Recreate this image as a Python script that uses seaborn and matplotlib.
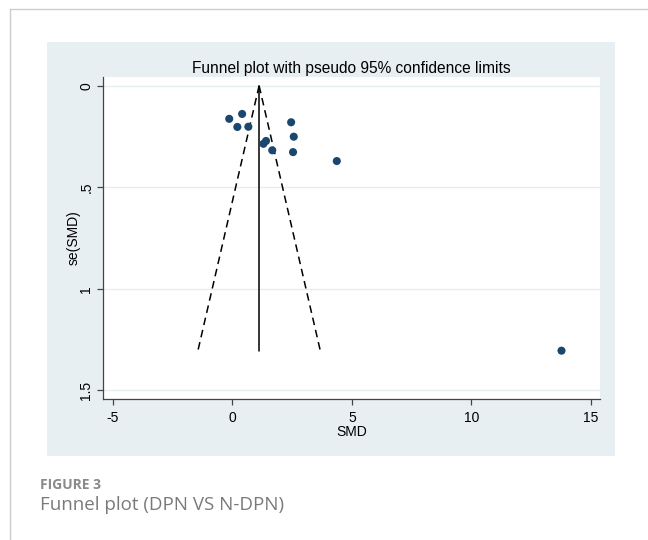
import matplotlib
matplotlib.use("Agg")
import matplotlib.pyplot as plt
import seaborn as sns
import pandas as pd
from matplotlib.patches import Rectangle
from matplotlib.lines import Line2D

# ---- data ----
smd = [-0.13, 0.41, 0.21, 0.67, 1.30, 1.41, 1.67, 2.46, 2.57, 2.54, 4.37, 13.77]
se_smd = [0.163, 0.139, 0.203, 0.202, 0.286, 0.272, 0.318, 0.180, 0.251, 0.327, 0.371, 1.305]
pooled_smd = [1.12, 1.12]
pooled_se = [0.0, 1.305]
funnel_se = [0.0, 1.30]
funnel_lower = [1.12, -1.43]
funnel_upper = [1.12, 3.67]
x_ticks = [-5, 0, 5, 10, 15]
y_ticks = [0, 0.5, 1, 1.5]
y_tick_labels = ["0", ".5", "1", "1.5"]
title = "Funnel plot with pseudo 95% confidence limits"
x_label = "SMD"
y_label = "se(SMD)"
fig_label = "FIGURE 3"
fig_caption = "Funnel plot (DPN VS N-DPN)"

df = pd.DataFrame({"SMD": smd, "se": se_smd})

sns.set_theme(style="white")
plt.rcParams['font.family'] = ['Liberation Sans', 'DejaVu Sans']

W, H = 648, 540
fig = plt.figure(figsize=(W / 100, H / 100), dpi=100)
fig.patch.set_facecolor("white")

# page border lines
fig.add_artist(Line2D([10 / W, 10 / W], [0, 1 - 9 / H], transform=fig.transFigure,
                      color="#cccccc", lw=1.0))
fig.add_artist(Line2D([10 / W, 1], [1 - 9 / H, 1 - 9 / H], transform=fig.transFigure,
                      color="#cccccc", lw=1.0))
# graph panel background
fig.add_artist(Rectangle((47 / W, 1 - 455.7 / H), (615 - 47) / W, (455.7 - 42) / H,
                         transform=fig.transFigure, facecolor="#e8eff2",
                         edgecolor="none", zorder=-1))

ax = fig.add_axes([103 / W, 1 - 399 / H, (600 - 103) / W, (399 - 77) / H])
ax.set_facecolor("white")

# funnel lines
sns.lineplot(x=funnel_lower, y=funnel_se, sort=False, estimator=None, ax=ax,
             color="black", lw=1.1, linestyle=(0, (5.0, 3.2)))
sns.lineplot(x=funnel_upper, y=funnel_se, sort=False, estimator=None, ax=ax,
             color="black", lw=1.1, linestyle=(0, (5.0, 3.2)))
sns.lineplot(x=pooled_smd, y=pooled_se, sort=False, estimator=None, ax=ax,
             color="black", lw=1.1)

sns.scatterplot(data=df, x="SMD", y="se", ax=ax, color="#1a476f", s=34,
                edgecolor="none", zorder=3)

ax.set_xlim(-5.41, 15.38)
ax.set_ylim(1.543, -0.043)
ax.set_xticks(x_ticks)
ax.set_xticklabels([str(t) for t in x_ticks])
ax.set_yticks(y_ticks)
ax.set_yticklabels(y_tick_labels, rotation=90, va="center")

ax.yaxis.grid(True, color="#e4edf0", lw=1.0)
ax.xaxis.grid(False)
ax.set_axisbelow(True)

for s in ["top", "right"]:
    ax.spines[s].set_visible(False)
for s in ["left", "bottom"]:
    ax.spines[s].set_color("#444444")
    ax.spines[s].set_linewidth(0.9)

ax.tick_params(axis="both", which="major", direction="out", length=4, width=0.9,
               color="#444444", labelsize=10, labelcolor="black",
               bottom=True, left=True)
ax.tick_params(axis="x", pad=5)
ax.tick_params(axis="y", pad=3)

ax.set_title(title, fontsize=11.2, color="black", pad=3)
ax.set_xlabel(x_label, fontsize=10, color="black", labelpad=0)
ax.set_ylabel(y_label, fontsize=10, color="black", labelpad=-1)

fig.text(40 / W, 1 - 489 / H, fig_label, fontsize=10, fontweight="bold",
         color="#8a8a8a", family=["Open Sans", "DejaVu Sans"], va="baseline")
fig.text(40 / W, 1 - 510 / H, fig_caption, fontsize=13.5, color="#7a7a7a",
         family=["Open Sans", "DejaVu Sans"], va="baseline")

fig.savefig("out.png", dpi=100, facecolor="white")
